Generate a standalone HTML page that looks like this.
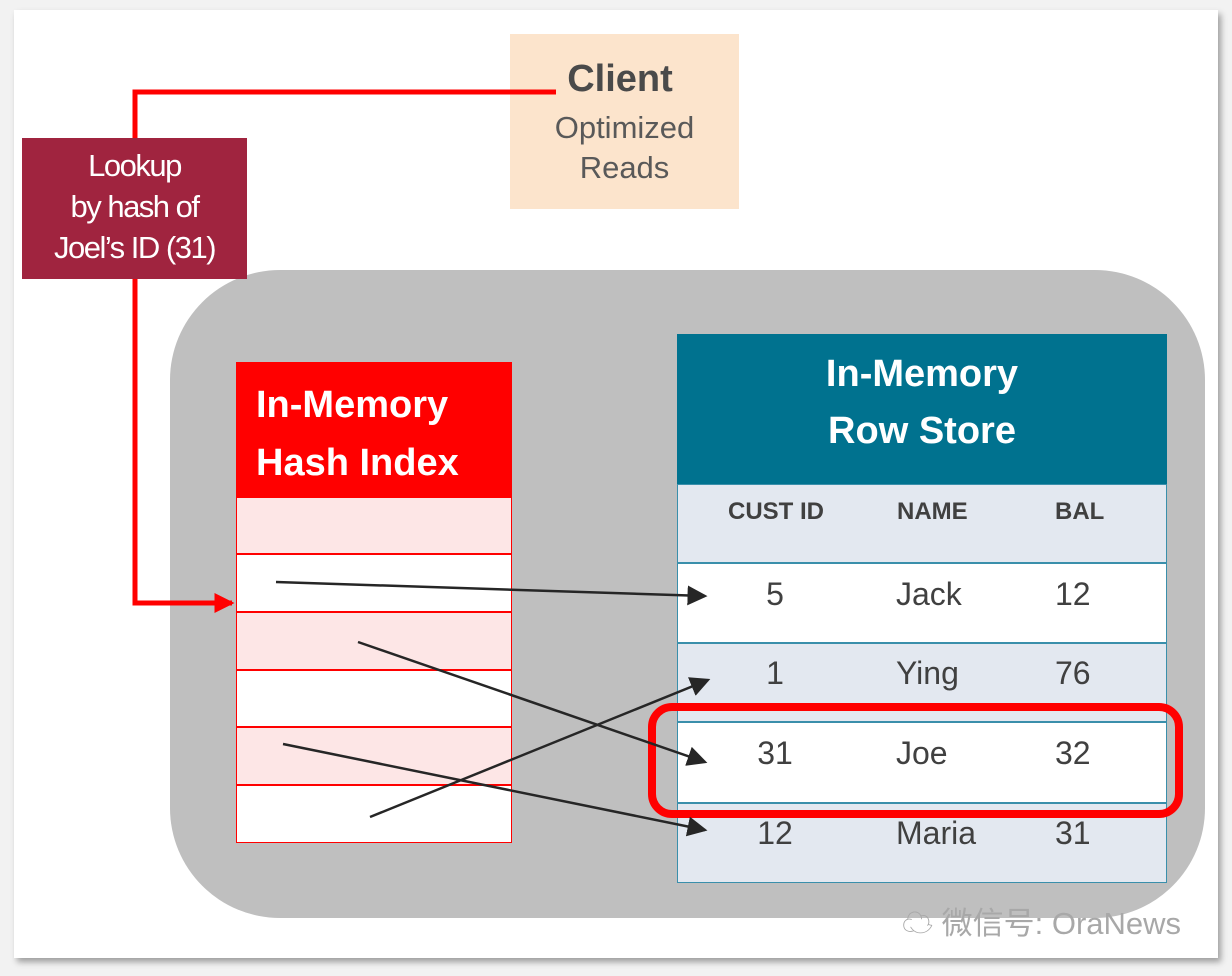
<!DOCTYPE html>
<html><head><style>
body{margin:0;width:1232px;height:976px;background:#f2f2f2;position:relative;overflow:hidden;font-family:"Liberation Sans","Noto Sans CJK SC",sans-serif;}
div{position:absolute;box-sizing:border-box;}
.t{text-align:center;}
</style></head><body>
<div style="left:14px;top:10px;width:1204px;height:948px;background:#fff;box-shadow:3px 4px 6px rgba(0,0,0,0.35);"></div>
<div style="left:170px;top:270px;width:1035px;height:648px;background:#bfbfbf;border-radius:110px;"></div>
<div style="left:510px;top:34px;width:229px;height:175px;background:#fce4cc;"></div>
<svg width="1232" height="976" style="position:absolute;left:0;top:0;">
<defs><marker id="r" markerWidth="4" markerHeight="4" refX="3.5" refY="2" orient="auto" markerUnits="strokeWidth"><path d="M0,0 L4,2 L0,4 z" fill="#ff0000"/></marker></defs>
<polyline points="556,92 135,92 135,603 232,603" fill="none" stroke="#ff0000" stroke-width="5" marker-end="url(#r)"/>
</svg>
<div class="t" style="left:530px;top:58px;width:180px;font-size:38px;font-weight:bold;color:#4a4a4a;">Client</div>
<div class="t" style="left:510px;top:108px;width:229px;font-size:31px;color:#595959;line-height:40px;">Optimized<br>Reads</div>
<div style="left:22px;top:138px;width:225px;height:141px;background:#a0243f;"></div>
<div class="t" style="left:22px;top:145px;width:225px;font-size:31px;color:#fff;line-height:41px;letter-spacing:-1.5px;">Lookup<br>by hash of<br>Joel’s ID (31)</div>
<!-- hash index -->
<div style="left:236px;top:362px;width:276px;height:135px;background:#ff0000;"></div>
<div style="left:256px;top:376px;font-size:38px;font-weight:bold;color:#fff;line-height:58px;">In-Memory<br>Hash Index</div>
<div style="left:236px;top:497px;width:276px;height:57px;background:#fde6e6;border:1.5px solid #ff0000;"></div>
<div style="left:236px;top:554px;width:276px;height:58px;background:#fff;border:1.5px solid #ff0000;"></div>
<div style="left:236px;top:612px;width:276px;height:58px;background:#fde6e6;border:1.5px solid #ff0000;"></div>
<div style="left:236px;top:670px;width:276px;height:57px;background:#fff;border:1.5px solid #ff0000;"></div>
<div style="left:236px;top:727px;width:276px;height:58px;background:#fde6e6;border:1.5px solid #ff0000;"></div>
<div style="left:236px;top:785px;width:276px;height:58px;background:#fff;border:1.5px solid #ff0000;"></div>
<!-- row store -->
<div style="left:677px;top:334px;width:490px;height:150px;background:#00728f;"></div>
<div class="t" style="left:677px;top:346px;width:490px;font-size:38px;font-weight:bold;color:#fff;line-height:57px;">In-Memory<br>Row Store</div>
<div style="left:677px;top:484px;width:490px;height:79px;background:#e3e8f0;border:1.5px solid #3a8fab;"></div>
<div style="left:677px;top:563px;width:490px;height:80px;background:#fff;border:1.5px solid #3a8fab;"></div>
<div style="left:677px;top:643px;width:490px;height:79px;background:#e3e8f0;border:1.5px solid #3a8fab;"></div>
<div style="left:677px;top:722px;width:490px;height:81px;background:#fff;border:1.5px solid #3a8fab;"></div>
<div style="left:677px;top:803px;width:490px;height:80px;background:#e3e8f0;border:1.5px solid #3a8fab;"></div>
<div style="left:676px;top:498px;width:200px;text-align:center;font-size:24px;font-weight:bold;color:#404040;">CUST ID</div>
<div style="left:897px;top:498px;font-size:24px;font-weight:bold;color:#404040;">NAME</div>
<div style="left:1055px;top:498px;font-size:24px;font-weight:bold;color:#404040;">BAL</div>
<div style="left:675px;top:576px;width:200px;text-align:center;font-size:32px;color:#404040;">5</div>
<div style="left:896px;top:576px;font-size:32px;color:#404040;">Jack</div>
<div style="left:1055px;top:576px;font-size:32px;color:#404040;">12</div>
<div style="left:675px;top:655px;width:200px;text-align:center;font-size:32px;color:#404040;">1</div>
<div style="left:896px;top:655px;font-size:32px;color:#404040;">Ying</div>
<div style="left:1055px;top:655px;font-size:32px;color:#404040;">76</div>
<div style="left:675px;top:735px;width:200px;text-align:center;font-size:32px;color:#404040;">31</div>
<div style="left:896px;top:735px;font-size:32px;color:#404040;">Joe</div>
<div style="left:1055px;top:735px;font-size:32px;color:#404040;">32</div>
<div style="left:675px;top:815px;width:200px;text-align:center;font-size:32px;color:#404040;">12</div>
<div style="left:896px;top:815px;font-size:32px;color:#404040;">Maria</div>
<div style="left:1055px;top:815px;font-size:32px;color:#404040;">31</div>
<div style="left:648px;top:703px;width:535px;height:115px;border:8px solid #ff0000;border-radius:24px;"></div>
<div style="left:902px;top:898px;font-size:31px;color:#a8a8a8;white-space:nowrap;">☁ 微信号: OraNews</div>
<svg width="1232" height="976" style="position:absolute;left:0;top:0;">
<defs><marker id="a" markerWidth="8" markerHeight="8" refX="7" refY="4" orient="auto" markerUnits="strokeWidth"><path d="M0,0 L8,4 L0,8 z" fill="#262626"/></marker></defs>
<g stroke="#262626" stroke-width="2.5" marker-end="url(#a)">
<line x1="276" y1="582" x2="705" y2="596"/>
<line x1="358" y1="642" x2="705" y2="762"/>
<line x1="283" y1="744" x2="705" y2="830"/>
<line x1="370" y1="817" x2="708" y2="680"/>
</g>
</svg>
</body></html>
